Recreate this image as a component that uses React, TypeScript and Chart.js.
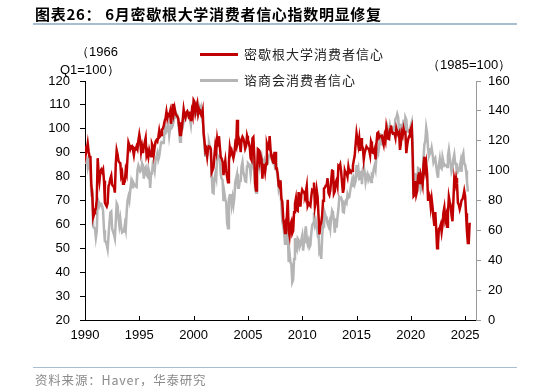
import React, { useEffect, useRef } from "react";
import { Chart, registerables } from "chart.js";

Chart.register(...registerables);

// Monthly values, starting January 1990
const startYear = 1990;

const michigan: number[] = [
  93.0, 89.5, 91.3, 93.9, 90.6, 88.3, 88.2, 76.4, 72.8, 63.9, 66.0, 65.5,
  66.8, 70.4, 87.7, 81.8, 78.3, 82.1, 82.9, 82.0, 83.0, 78.3, 69.1, 68.2,
  67.5, 68.8, 76.0, 77.2, 79.2, 80.4, 76.6, 76.1, 75.6, 73.3, 85.3, 91.0,
  89.3, 86.6, 85.9, 85.6, 80.3, 81.5, 77.0, 77.3, 77.9, 82.7, 81.2, 88.2,
  94.3, 93.2, 91.5, 92.6, 92.8, 91.2, 89.0, 91.7, 91.5, 92.7, 91.6, 95.1,
  97.6, 95.1, 90.3, 92.5, 89.8, 92.7, 94.4, 96.2, 88.9, 90.2, 88.2, 91.0,
  89.3, 88.5, 93.7, 92.7, 89.4, 92.4, 94.7, 95.3, 94.7, 96.5, 99.2, 96.9,
  97.4, 99.7, 100.0, 101.4, 103.2, 104.5, 107.1, 104.4, 106.0, 105.6, 107.2, 102.1,
  106.6, 110.4, 106.5, 108.7, 106.5, 105.6, 105.2, 104.4, 100.9, 97.4, 102.7, 100.5,
  103.9, 108.1, 105.7, 104.6, 106.8, 107.3, 106.0, 104.5, 107.2, 103.2, 107.2, 105.4,
  112.0, 111.3, 107.1, 109.2, 110.7, 106.4, 108.3, 107.3, 106.8, 105.8, 107.6, 98.4,
  94.7, 90.6, 91.5, 88.4, 92.0, 92.6, 92.4, 91.5, 81.8, 82.7, 83.9, 88.8,
  93.0, 90.7, 95.7, 93.0, 96.9, 92.4, 88.1, 87.6, 86.1, 80.6, 84.2, 86.7,
  82.4, 79.9, 77.6, 86.0, 92.1, 89.7, 90.9, 89.3, 87.7, 89.6, 93.7, 92.6,
  103.8, 94.4, 95.8, 94.2, 90.2, 95.6, 96.7, 95.9, 94.2, 91.7, 92.8, 97.1,
  95.5, 94.1, 92.6, 87.7, 86.9, 96.0, 96.5, 89.1, 76.9, 74.2, 81.6, 91.5,
  91.2, 86.7, 88.9, 87.4, 79.1, 84.9, 84.7, 82.0, 85.4, 93.6, 92.1, 91.7,
  96.9, 91.3, 88.4, 87.1, 88.3, 85.3, 90.4, 83.4, 83.4, 80.9, 76.1, 75.5,
  78.4, 70.8, 69.5, 62.6, 59.8, 56.4, 61.2, 63.0, 70.3, 57.6, 55.3, 60.1,
  61.2, 56.3, 57.3, 65.1, 68.7, 70.8, 66.0, 65.7, 73.5, 70.6, 67.4, 72.5,
  74.4, 73.6, 73.6, 72.2, 73.6, 76.0, 67.8, 68.9, 68.2, 67.7, 71.6, 74.5,
  74.2, 77.5, 67.5, 69.8, 74.3, 71.5, 63.7, 55.8, 59.5, 60.8, 63.7, 69.9,
  75.0, 75.3, 76.2, 76.4, 79.3, 73.2, 72.3, 74.3, 78.3, 82.6, 82.7, 72.9,
  73.8, 77.6, 78.6, 76.4, 84.5, 84.1, 85.1, 82.1, 77.5, 73.2, 75.1, 82.5,
  81.2, 81.6, 80.0, 84.1, 81.9, 82.5, 81.8, 82.5, 84.6, 86.9, 88.8, 93.6,
  98.1, 95.4, 93.0, 95.9, 90.7, 96.1, 93.1, 91.9, 87.2, 90.0, 91.3, 92.6,
  92.0, 91.7, 91.0, 89.0, 94.7, 93.5, 90.0, 89.8, 91.2, 87.2, 93.8, 98.2,
  98.5, 96.3, 96.9, 97.0, 97.1, 95.0, 93.4, 96.8, 95.1, 100.7, 98.5, 95.9,
  95.7, 99.7, 101.4, 98.8, 98.0, 98.2, 97.9, 96.2, 100.1, 98.6, 97.5, 98.3,
  91.2, 93.8, 98.4, 97.2, 100.0, 98.2, 98.4, 89.8, 93.2, 95.5, 96.8, 99.3,
  99.8, 101.0, 89.1, 71.8, 72.3, 78.1, 72.5, 74.1, 80.4, 81.8, 76.9, 80.7,
  79.0, 76.8, 84.9, 88.3, 82.9, 85.5, 81.2, 70.3, 72.8, 71.7, 67.4, 70.6,
  67.2, 62.8, 59.4, 65.2, 58.4, 50.0, 51.5, 58.2, 58.6, 59.9, 56.8, 59.7,
  64.9, 67.0, 62.0, 63.7, 59.0, 64.4, 71.5, 69.4, 67.9, 63.8, 61.3, 69.7,
  79.0, 76.9, 79.4, 77.2, 69.1, 68.2, 66.4, 67.9, 70.1, 70.5, 71.8, 74.0,
  71.7, 64.7, 57.0, 52.2, 52.2, 60.7,
];

const conferenceBoard: number[] = [
  105.3, 106.0, 107.3, 102.4, 106.1, 101.8, 99.9, 84.7, 85.6, 62.6, 61.7, 61.2,
  55.1, 59.4, 81.1, 79.4, 76.4, 78.0, 77.7, 76.1, 72.9, 60.1, 52.7, 52.5,
  50.2, 47.3, 56.5, 65.1, 71.9, 72.6, 61.2, 59.0, 57.3, 54.6, 65.6, 78.1,
  76.7, 68.5, 63.2, 67.6, 61.9, 58.6, 59.2, 59.3, 63.8, 60.5, 71.9, 79.8,
  82.6, 79.9, 86.7, 92.1, 88.9, 92.5, 91.3, 90.4, 89.5, 89.1, 100.4, 103.4,
  101.4, 99.4, 100.2, 104.6, 102.0, 94.6, 101.4, 102.4, 97.3, 96.3, 101.6, 99.2,
  88.4, 98.0, 98.4, 104.8, 103.5, 100.1, 107.0, 109.4, 111.8, 107.3, 109.5, 114.2,
  118.7, 118.9, 118.5, 118.5, 127.9, 129.9, 126.3, 127.6, 130.2, 123.4, 128.1, 136.2,
  128.3, 137.4, 133.8, 137.2, 136.3, 138.2, 137.2, 133.1, 126.4, 119.3, 126.4, 126.7,
  128.9, 133.1, 134.0, 135.5, 137.7, 139.0, 136.2, 136.0, 134.2, 130.5, 137.0, 141.7,
  144.7, 140.8, 137.1, 137.7, 144.7, 139.2, 143.0, 140.8, 142.5, 135.8, 132.6, 128.6,
  115.7, 109.2, 116.9, 109.9, 116.1, 118.9, 116.3, 114.0, 97.0, 85.3, 84.9, 94.6,
  97.8, 95.0, 110.7, 108.5, 110.3, 106.3, 97.4, 94.5, 93.7, 79.6, 84.9, 80.7,
  78.8, 64.8, 61.4, 81.0, 83.6, 83.5, 77.0, 81.7, 77.0, 81.7, 92.5, 94.8,
  97.7, 88.5, 88.5, 93.0, 93.1, 102.8, 105.7, 98.7, 96.7, 92.9, 92.6, 102.7,
  105.1, 104.4, 103.0, 97.5, 103.1, 106.2, 103.6, 105.5, 87.5, 85.2, 98.3, 103.8,
  106.8, 102.7, 107.5, 109.8, 104.7, 105.4, 107.0, 100.2, 105.9, 105.1, 105.3, 110.0,
  110.2, 111.2, 108.2, 106.3, 108.5, 105.3, 111.9, 105.6, 99.5, 95.2, 87.8, 90.6,
  87.3, 76.4, 65.9, 62.8, 58.1, 51.0, 51.9, 58.5, 61.4, 38.8, 44.7, 38.6,
  37.4, 25.3, 26.9, 40.8, 54.8, 49.3, 47.4, 54.5, 53.4, 48.7, 50.6, 53.6,
  56.5, 46.4, 52.3, 57.7, 62.7, 54.3, 51.0, 53.2, 48.6, 49.9, 57.8, 63.4,
  64.8, 72.0, 63.8, 66.0, 61.7, 57.6, 59.2, 45.2, 46.4, 40.9, 55.2, 64.8,
  61.5, 71.6, 69.5, 68.7, 64.4, 62.7, 65.4, 61.3, 68.4, 73.1, 71.5, 66.7,
  58.4, 68.0, 61.9, 69.0, 74.3, 82.1, 81.0, 81.8, 80.2, 72.4, 72.0, 77.5,
  79.4, 78.3, 83.9, 81.7, 82.2, 86.4, 90.3, 93.4, 89.0, 94.1, 91.0, 93.1,
  103.8, 98.8, 101.4, 94.3, 94.6, 99.8, 91.0, 101.3, 102.6, 99.1, 92.6, 96.3,
  97.8, 94.0, 96.1, 94.7, 92.4, 97.4, 96.7, 101.1, 103.5, 100.8, 109.4, 113.3,
  111.6, 116.1, 124.9, 119.4, 117.6, 117.3, 120.0, 120.4, 120.6, 126.2, 128.6, 123.1,
  124.3, 130.0, 127.0, 128.8, 128.8, 127.1, 127.9, 134.7, 135.3, 137.9, 135.7, 126.6,
  121.7, 131.4, 124.2, 129.2, 134.1, 124.3, 135.7, 134.2, 126.3, 126.1, 126.8, 128.2,
  130.4, 132.6, 118.8, 85.7, 85.9, 98.3, 91.7, 86.3, 101.8, 101.4, 92.9, 87.1,
  88.9, 90.4, 109.0, 117.5, 120.0, 128.9, 125.1, 115.2, 109.8, 111.6, 111.9, 115.2,
  111.1, 105.7, 107.6, 108.6, 103.2, 98.4, 95.3, 103.6, 107.8, 102.2, 101.4, 109.0,
  106.0, 103.4, 104.0, 103.7, 102.5, 110.1, 114.0, 108.7, 104.3, 99.1, 101.0, 108.0,
  110.9, 104.8, 104.7, 97.5, 101.3, 100.4, 101.9, 105.6, 99.2, 109.6, 111.7, 104.7,
  104.1, 100.1, 92.9, 86.0,
];

const yearTicks: number[] = [1990, 1995, 2000, 2005, 2010, 2015, 2020, 2025];

const leftTitle = ["（1966", "Q1=100）"];
const rightTitle = "（1985=100）";
const seriesNames = ["密歇根大学消费者信心", "谘商会消费者信心"];
const chartTitle = "图表26： 6月密歇根大学消费者信心指数明显修复";
const sourceText = "资料来源：Haver，华泰研究";

const RED = "#c00000";
const GRAY = "#b5b5b5";
const NUM_FONT = "'Liberation Sans', Arial, sans-serif";
const CJK_FONT = "'Noto Sans CJK SC', 'Liberation Sans', sans-serif";

const toPoints = (arr: number[]) =>
  arr.map((v, i) => ({ x: startYear + i / 12, y: v }));

export default function App() {
  const canvasRef = useRef<HTMLCanvasElement | null>(null);

  useEffect(() => {
    document.body.style.margin = "0";
    const canvas = canvasRef.current;
    if (!canvas) return;

    const innerTicks = {
      id: "innerTicks",
      afterDraw(chart: any) {
        const xs = chart.scales.x;
        const ctx = chart.ctx;
        const bottom = chart.chartArea.bottom;
        ctx.save();
        ctx.strokeStyle = "#000";
        ctx.lineWidth = 1;
        yearTicks.forEach((v) => {
          const px = Math.round(xs.getPixelForValue(v)) + 0.5;
          ctx.beginPath();
          ctx.moveTo(px, bottom);
          ctx.lineTo(px, bottom - 4);
          ctx.stroke();
        });
        ctx.restore();
      },
    };

    const chart = new Chart(canvas, {
      type: "line",
      data: {
        datasets: [
          {
            label: seriesNames[0],
            data: toPoints(michigan),
            borderColor: RED,
            backgroundColor: RED,
            borderWidth: 2.5,
            pointRadius: 0,
            tension: 0,
            yAxisID: "y",
            order: 0,
          },
          {
            label: seriesNames[1],
            data: toPoints(conferenceBoard),
            borderColor: GRAY,
            backgroundColor: GRAY,
            borderWidth: 2.5,
            pointRadius: 0,
            tension: 0,
            yAxisID: "y1",
            order: 1,
          },
        ],
      },
      options: {
        animation: false,
        responsive: false,
        maintainAspectRatio: false,
        layout: { padding: { top: 81, left: 0, right: 0, bottom: 0 } },
        plugins: {
          legend: { display: false },
          tooltip: { enabled: false },
        },
        scales: {
          x: {
            type: "linear",
            min: 1990,
            max: 2026,
            afterBuildTicks: (s: any) => {
              s.ticks = yearTicks.map((v) => ({ value: v }));
            },
            afterFit: (s: any) => {
              s.height = 72;
            },
            ticks: {
              color: "#000",
              font: { family: NUM_FONT, size: 13 },
              padding: 8,
              maxRotation: 0,
              autoSkip: false,
              callback: (v: any) => String(v),
            },
            grid: { display: false, drawTicks: false },
            border: { display: true, color: "#000", width: 1 },
          },
          y: {
            position: "left",
            min: 20,
            max: 120,
            afterFit: (s: any) => {
              s.width = 85;
            },
            ticks: {
              stepSize: 10,
              color: "#000",
              font: { family: NUM_FONT, size: 13 },
              padding: 10,
            },
            grid: {
              display: true,
              drawOnChartArea: false,
              drawTicks: true,
              tickLength: 5,
              color: "#000",
            },
            border: { display: true, color: "#000", width: 1 },
          },
          y1: {
            position: "right",
            min: 0,
            max: 160,
            afterFit: (s: any) => {
              s.width = 58;
            },
            ticks: {
              stepSize: 20,
              color: "#000",
              font: { family: NUM_FONT, size: 13 },
              padding: 7,
            },
            grid: {
              display: true,
              drawOnChartArea: false,
              drawTicks: true,
              tickLength: 5,
              color: "#999",
            },
            border: { display: true, color: "#999", width: 1 },
          },
        },
      },
      plugins: [innerTicks],
    });

    return () => chart.destroy();
  }, []);

  const abs = (s: React.CSSProperties): React.CSSProperties => ({
    position: "absolute",
    whiteSpace: "nowrap",
    ...s,
  });

  return (
    <div
      style={{
        position: "fixed",
        left: 0,
        top: 0,
        width: 534,
        height: 392,
        background: "#fff",
        overflow: "hidden",
      }}
    >
      <canvas
        ref={canvasRef}
        width={534}
        height={392}
        style={{ position: "absolute", left: 0, top: 0, width: 534, height: 392 }}
      />
      <div
        style={abs({
          left: 35,
          top: 4,
          fontFamily: CJK_FONT,
          fontWeight: 700,
          fontSize: 15,
          letterSpacing: 0.7,
          lineHeight: "20px",
          color: "#000",
        })}
      >
        {chartTitle}
      </div>
      <div style={abs({ left: 33, top: 23, width: 484, height: 2, background: "#a8bcd2" })} />

      <div style={abs({ left: 76, top: 44, fontFamily: NUM_FONT, fontSize: 13, lineHeight: "16px", color: "#000" })}>
        {leftTitle[0]}
      </div>
      <div style={abs({ left: 60, top: 62, fontFamily: NUM_FONT, fontSize: 13, lineHeight: "16px", color: "#000" })}>
        {leftTitle[1]}
      </div>
      <div style={abs({ left: 427, top: 57, fontFamily: NUM_FONT, fontSize: 13, lineHeight: "16px", color: "#000" })}>
        {rightTitle}
      </div>

      <div style={abs({ left: 200, top: 53, width: 38, height: 3, background: RED })} />
      <div
        style={abs({
          left: 244,
          top: 45,
          fontFamily: CJK_FONT,
          fontSize: 13,
          letterSpacing: 1,
          lineHeight: "18px",
          color: "#222",
        })}
      >
        {seriesNames[0]}
      </div>
      <div style={abs({ left: 200, top: 79, width: 38, height: 3, background: GRAY })} />
      <div
        style={abs({
          left: 244,
          top: 71,
          fontFamily: CJK_FONT,
          fontSize: 13,
          letterSpacing: 1,
          lineHeight: "18px",
          color: "#222",
        })}
      >
        {seriesNames[1]}
      </div>

      <div style={abs({ left: 33, top: 367, width: 484, height: 1, background: "#a8bcd2" })} />
      <div
        style={abs({
          left: 35,
          top: 371,
          fontFamily: CJK_FONT,
          fontSize: 12.5,
          letterSpacing: 0.8,
          lineHeight: "18px",
          color: "#8a8a8a",
        })}
      >
        {sourceText}
      </div>
    </div>
  );
}
